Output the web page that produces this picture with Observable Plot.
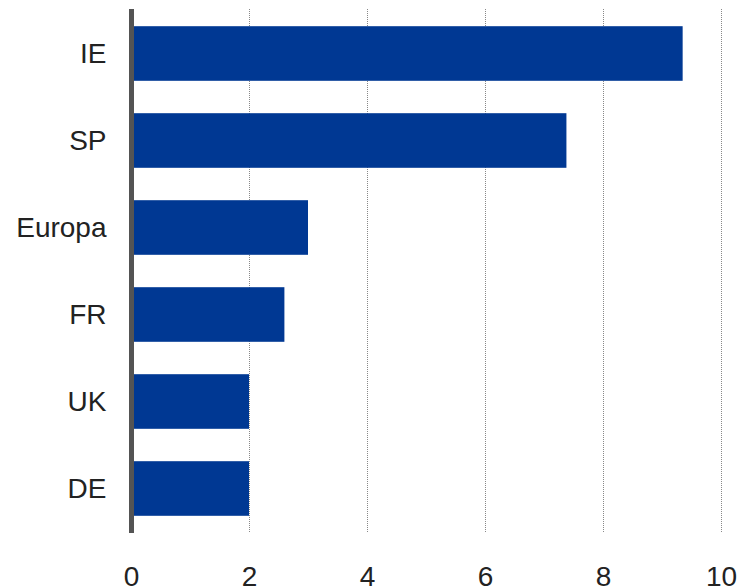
<!DOCTYPE html>
<html>
<head>
<meta charset="utf-8">
<script src="https://cdn.jsdelivr.net/npm/d3@7"></script>
<script src="https://cdn.jsdelivr.net/npm/@observablehq/plot@0.6"></script>
<style>
  html, body { margin: 0; padding: 0; background: #fff; }
  #chart svg { display: block; }
</style>
</head>
<body>
<div id="chart"></div>
<script>
const countries = ["IE", "SP", "Europa", "FR", "UK", "DE"];
const values = [9.35, 7.38, 3.0, 2.6, 2.0, 2.0];
const xTicks = [0, 2, 4, 6, 8, 10];
const gridTicks = [2, 4, 6, 8, 10];

const data = countries.map((c, i) => ({country: c, value: values[i]}));

const chart = Plot.plot({
  width: 739,
  height: 588,
  marginLeft: 131,
  marginRight: 18,
  marginTop: 9,
  marginBottom: 55,
  style: {fontFamily: "'Liberation Sans', Arial, sans-serif", fontSize: "28px", color: "#222", background: "#fff"},
  x: {domain: [0, 10], label: null},
  y: {domain: countries, padding: 0, label: null},
  marks: [
    Plot.ruleX(gridTicks, {stroke: "#888", strokeWidth: 1, strokeDasharray: "1,1"}),
    Plot.barX(data, {x: "value", y: "country", fill: "#003893", insetTop: 16.2, insetBottom: 16.2}),
    Plot.ruleX([0], {stroke: "#545454", strokeWidth: 5}),
    Plot.axisX({ticks: xTicks, tickSize: 0, tickPadding: 33, tickFormat: d3.format("d"), fontSize: 28, fill: "#222", label: null}),
    Plot.axisY({tickSize: 0, tickPadding: 25, fontSize: 28, fill: "#222", label: null})
  ]
});
document.getElementById("chart").appendChild(chart);
</script>
</body>
</html>
